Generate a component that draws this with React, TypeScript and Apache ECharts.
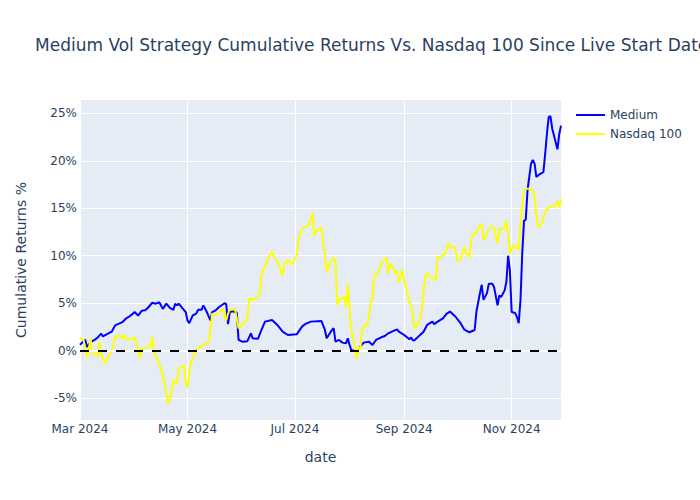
import React, { useEffect, useRef } from "react";
import * as echarts from "echarts";

const TITLE = "Medium Vol Strategy Cumulative Returns Vs. Nasdaq 100 Since Live Start Date";
const SERIES_NAMES = ["Medium", "Nasdaq 100"];
const Y_TICKS = [-5, 0, 5, 10, 15, 20, 25];
const X_TICKS = ["2024-03-01", "2024-05-01", "2024-07-01", "2024-09-01", "2024-11-01"];
const X_RANGE = ["2024-03-01", "2024-11-29"];
const MONTHS = ["Jan", "Feb", "Mar", "Apr", "May", "Jun", "Jul", "Aug", "Sep", "Oct", "Nov", "Dec"];

const mediumPoints: [string, number][] = [
  ["2024-03-01", 0.63], ["2024-03-04", 1.16], ["2024-03-05", 0.39], ["2024-03-07", 0.9],
  ["2024-03-09", 1.1], ["2024-03-11", 1.37], ["2024-03-13", 1.8], ["2024-03-14", 1.5],
  ["2024-03-19", 2.0], ["2024-03-21", 2.67], ["2024-03-25", 3.0], ["2024-03-27", 3.37],
  ["2024-03-29", 3.6], ["2024-03-31", 3.9], ["2024-04-01", 4.07], ["2024-04-03", 3.7],
  ["2024-04-05", 4.2], ["2024-04-07", 4.25], ["2024-04-09", 4.6], ["2024-04-11", 5.05],
  ["2024-04-13", 4.95], ["2024-04-15", 5.1], ["2024-04-17", 4.4], ["2024-04-19", 4.95],
  ["2024-04-21", 4.5], ["2024-04-23", 4.3], ["2024-04-24", 4.95], ["2024-04-25", 4.77],
  ["2024-04-26", 4.95], ["2024-04-28", 4.5], ["2024-04-30", 4.07], ["2024-05-01", 3.19],
  ["2024-05-02", 2.9], ["2024-05-04", 3.72], ["2024-05-06", 3.9], ["2024-05-07", 4.3],
  ["2024-05-09", 4.3], ["2024-05-10", 4.77], ["2024-05-12", 4.07], ["2024-05-14", 3.19],
  ["2024-05-15", 4.07], ["2024-05-17", 4.25], ["2024-05-19", 4.6], ["2024-05-22", 5.0],
  ["2024-05-23", 4.9], ["2024-05-24", 2.8], ["2024-05-25", 4.07], ["2024-05-27", 4.15],
  ["2024-05-29", 4.0], ["2024-05-30", 1.13], ["2024-06-01", 0.95], ["2024-06-04", 1.0],
  ["2024-06-06", 1.83], ["2024-06-07", 1.3], ["2024-06-10", 1.25], ["2024-06-12", 2.18],
  ["2024-06-14", 3.06], ["2024-06-18", 3.24], ["2024-06-21", 2.71], ["2024-06-24", 2.0],
  ["2024-06-27", 1.65], ["2024-07-02", 1.72], ["2024-07-05", 2.53], ["2024-07-07", 2.82],
  ["2024-07-10", 3.06], ["2024-07-16", 3.13], ["2024-07-18", 2.18], ["2024-07-19", 1.3],
  ["2024-07-22", 2.18], ["2024-07-23", 2.36], ["2024-07-24", 0.95], ["2024-07-26", 1.13],
  ["2024-07-28", 0.85], ["2024-07-30", 0.77], ["2024-07-31", 1.3], ["2024-08-01", 0.6],
  ["2024-08-02", 0.07], ["2024-08-06", -0.1], ["2024-08-07", 0.42], ["2024-08-09", 0.85],
  ["2024-08-12", 0.95], ["2024-08-14", 0.6], ["2024-08-16", 1.13], ["2024-08-19", 1.41],
  ["2024-08-21", 1.55], ["2024-08-23", 1.83], ["2024-08-25", 2.0], ["2024-08-28", 2.25],
  ["2024-08-29", 2.0], ["2024-09-01", 1.65], ["2024-09-04", 1.2], ["2024-09-05", 1.4],
  ["2024-09-06", 1.06], ["2024-09-07", 1.13], ["2024-09-10", 1.65], ["2024-09-12", 2.0],
  ["2024-09-14", 2.71], ["2024-09-17", 3.06], ["2024-09-18", 2.8], ["2024-09-20", 3.06],
  ["2024-09-23", 3.4], ["2024-09-25", 3.87], ["2024-09-27", 4.12], ["2024-09-30", 3.6],
  ["2024-10-03", 2.9], ["2024-10-05", 2.25], ["2024-10-08", 1.94], ["2024-10-11", 2.18],
  ["2024-10-12", 4.12], ["2024-10-14", 6.06], ["2024-10-15", 6.94], ["2024-10-16", 5.35],
  ["2024-10-18", 6.06], ["2024-10-19", 7.04], ["2024-10-21", 7.05], ["2024-10-22", 6.7],
  ["2024-10-24", 4.77], ["2024-10-25", 5.82], ["2024-10-26", 5.65], ["2024-10-28", 6.35],
  ["2024-10-29", 7.23], ["2024-10-30", 10.0], ["2024-10-31", 8.4], ["2024-11-01", 4.07],
  ["2024-11-03", 3.96], ["2024-11-04", 3.54], ["2024-11-05", 2.9], ["2024-11-06", 5.3],
  ["2024-11-07", 10.2], ["2024-11-08", 13.7], ["2024-11-09", 13.8], ["2024-11-10", 16.9],
  ["2024-11-12", 19.7], ["2024-11-13", 20.1], ["2024-11-14", 19.7], ["2024-11-15", 18.3],
  ["2024-11-17", 18.6], ["2024-11-19", 18.8], ["2024-11-20", 20.7], ["2024-11-21", 22.8],
  ["2024-11-22", 24.6], ["2024-11-23", 24.7], ["2024-11-24", 23.4], ["2024-11-27", 21.2],
  ["2024-11-28", 22.8], ["2024-11-29", 23.7],
];

const nasdaqPoints: [string, number][] = [
  ["2024-03-01", 1.37], ["2024-03-03", 1.16], ["2024-03-05", -0.77], ["2024-03-07", 1.26],
  ["2024-03-08", -0.21], ["2024-03-11", -0.6], ["2024-03-12", 0.91], ["2024-03-13", -0.39],
  ["2024-03-15", -1.3], ["2024-03-19", -0.04], ["2024-03-21", 1.44], ["2024-03-23", 1.61],
  ["2024-03-25", 1.26], ["2024-03-26", 1.65], ["2024-03-28", 1.16], ["2024-03-30", 1.26],
  ["2024-04-01", 1.37], ["2024-04-03", 0.21], ["2024-04-04", -0.84], ["2024-04-05", 0.21],
  ["2024-04-08", 0.32], ["2024-04-10", 0.56], ["2024-04-11", 1.44], ["2024-04-12", -0.14],
  ["2024-04-14", -1.02], ["2024-04-16", -1.9], ["2024-04-17", -2.77], ["2024-04-18", -3.47],
  ["2024-04-19", -4.5], ["2024-04-20", -5.58], ["2024-04-21", -5.05], ["2024-04-22", -4.5],
  ["2024-04-23", -3.1], ["2024-04-25", -3.47], ["2024-04-26", -1.9], ["2024-04-28", -1.72],
  ["2024-04-29", -1.54], ["2024-04-30", -3.47], ["2024-05-01", -3.9], ["2024-05-03", -1.19],
  ["2024-05-05", -0.49], ["2024-05-06", 0.1], ["2024-05-08", 0.32], ["2024-05-10", 0.67],
  ["2024-05-13", 0.91], ["2024-05-14", 2.14], ["2024-05-15", 3.9], ["2024-05-17", 3.72],
  ["2024-05-19", 4.07], ["2024-05-21", 4.42], ["2024-05-23", 3.19], ["2024-05-24", 3.9],
  ["2024-05-25", 4.32], ["2024-05-28", 4.37], ["2024-05-30", 2.36], ["2024-06-02", 2.89],
  ["2024-06-04", 3.3], ["2024-06-05", 5.5], ["2024-06-07", 5.35], ["2024-06-10", 5.7],
  ["2024-06-11", 6.06], ["2024-06-12", 7.93], ["2024-06-14", 8.9], ["2024-06-16", 9.86],
  ["2024-06-18", 10.4], ["2024-06-19", 10.0], ["2024-06-22", 9.0], ["2024-06-23", 8.4],
  ["2024-06-24", 7.93], ["2024-06-25", 9.16], ["2024-06-27", 9.58], ["2024-06-29", 9.1],
  ["2024-07-01", 9.68], ["2024-07-02", 9.93], ["2024-07-03", 11.68], ["2024-07-04", 12.5],
  ["2024-07-06", 13.0], ["2024-07-08", 13.1], ["2024-07-09", 13.3], ["2024-07-11", 14.5],
  ["2024-07-12", 12.1], ["2024-07-13", 12.6], ["2024-07-15", 12.8], ["2024-07-16", 13.0],
  ["2024-07-18", 10.0], ["2024-07-19", 8.18], ["2024-07-21", 9.33], ["2024-07-23", 9.79],
  ["2024-07-24", 9.44], ["2024-07-25", 4.8], ["2024-07-26", 5.4], ["2024-07-28", 5.5],
  ["2024-07-29", 5.7], ["2024-07-30", 4.6], ["2024-07-31", 7.0], ["2024-08-01", 4.4],
  ["2024-08-02", 2.18], ["2024-08-04", 0.5], ["2024-08-05", -0.9], ["2024-08-06", 0.4],
  ["2024-08-07", -0.2], ["2024-08-08", 2.3], ["2024-08-10", 2.71], ["2024-08-11", 2.71],
  ["2024-08-12", 3.6], ["2024-08-13", 5.18], ["2024-08-14", 5.4], ["2024-08-15", 7.93],
  ["2024-08-17", 8.18], ["2024-08-19", 9.23], ["2024-08-20", 9.44], ["2024-08-22", 9.79],
  ["2024-08-23", 8.1], ["2024-08-24", 9.16], ["2024-08-26", 8.63], ["2024-08-27", 8.18],
  ["2024-08-28", 8.4], ["2024-08-29", 7.23], ["2024-08-31", 8.5], ["2024-09-01", 7.4],
  ["2024-09-03", 6.0], ["2024-09-04", 5.0], ["2024-09-05", 4.9], ["2024-09-07", 2.32],
  ["2024-09-09", 2.84], ["2024-09-10", 3.37], ["2024-09-11", 4.25], ["2024-09-12", 6.35],
  ["2024-09-13", 7.75], ["2024-09-14", 8.18], ["2024-09-15", 7.93], ["2024-09-17", 7.58],
  ["2024-09-19", 7.4], ["2024-09-20", 9.86], ["2024-09-21", 9.86], ["2024-09-23", 10.0],
  ["2024-09-25", 10.56], ["2024-09-26", 11.33], ["2024-09-27", 10.9], ["2024-09-30", 10.9],
  ["2024-10-01", 9.5], ["2024-10-03", 9.58], ["2024-10-05", 10.9], ["2024-10-06", 10.4],
  ["2024-10-08", 9.79], ["2024-10-09", 11.44], ["2024-10-10", 12.3], ["2024-10-12", 12.4],
  ["2024-10-13", 12.84], ["2024-10-14", 13.2], ["2024-10-15", 13.3], ["2024-10-16", 11.68],
  ["2024-10-17", 11.9], ["2024-10-19", 12.84], ["2024-10-21", 13.1], ["2024-10-22", 13.0],
  ["2024-10-24", 11.26], ["2024-10-25", 12.84], ["2024-10-28", 12.84], ["2024-10-29", 13.7],
  ["2024-10-30", 12.3], ["2024-10-31", 10.2], ["2024-11-02", 11.1], ["2024-11-04", 10.9],
  ["2024-11-05", 10.56], ["2024-11-06", 13.37], ["2024-11-08", 16.9], ["2024-11-09", 17.05],
  ["2024-11-11", 17.05], ["2024-11-13", 16.9], ["2024-11-14", 16.35], ["2024-11-15", 14.2],
  ["2024-11-16", 13.0], ["2024-11-18", 13.4], ["2024-11-20", 14.6], ["2024-11-22", 15.1],
  ["2024-11-24", 15.2], ["2024-11-25", 15.2], ["2024-11-27", 15.8], ["2024-11-28", 15.05],
  ["2024-11-29", 15.9],
];

const FONT = "'DejaVu Sans', verdana, arial, sans-serif";
const TEXT_COLOR = "#2a3f5f";

function toTime(s: string): number {
  const [y, m, d] = s.split("-").map(Number);
  return new Date(y, m - 1, d).getTime();
}

export default function App() {
  const ref = useRef<HTMLDivElement>(null);

  useEffect(() => {
    if (!ref.current) return;
    const chart = echarts.init(ref.current, null, { renderer: "svg" });
    const xTicks = X_TICKS.map(toTime);
    const toData = (pts: [string, number][]) => pts.map(([d, v]) => [toTime(d), v]);
    chart.setOption({
      animation: false,
      backgroundColor: "#ffffff",
      textStyle: { fontFamily: FONT },
      grid: { left: 80, top: 100, width: 481, height: 320, backgroundColor: "#E5ECF6", show: true, borderWidth: 0 },
      legend: {
        data: SERIES_NAMES,
        orient: "vertical",
        left: 571,
        top: 103,
        padding: 5,
        icon: "rect",
        itemWidth: 29,
        itemHeight: 2,
        itemGap: 5,
        textStyle: { fontSize: 12, color: TEXT_COLOR, fontFamily: FONT, lineHeight: 14 },
      },
      xAxis: {
        type: "value",
        min: toTime(X_RANGE[0]),
        max: toTime(X_RANGE[1]),
        axisLine: { show: false },
        axisTick: { show: false, customValues: xTicks },
        splitLine: { show: true, lineStyle: { color: "#ffffff", width: 1 } },
        axisLabel: {
          customValues: xTicks,
          margin: 3,
          fontSize: 12,
          color: TEXT_COLOR,
          fontFamily: FONT,
          hideOverlap: false,
          formatter: (v: number) => {
            const d = new Date(v);
            return MONTHS[d.getMonth()] + " " + d.getFullYear();
          },
        },
      },
      yAxis: {
        type: "value",
        min: -7.3,
        max: 26.4,
        axisLine: { show: false },
        axisTick: { show: false, customValues: Y_TICKS },
        splitLine: { show: true, lineStyle: { color: "#ffffff", width: 1 } },
        axisLabel: {
          customValues: Y_TICKS,
          margin: 3,
          fontSize: 12,
          color: TEXT_COLOR,
          fontFamily: FONT,
          formatter: (v: number) => v + "%",
        },
      },
      graphic: [
        {
          type: "text",
          x: 35,
          y: 45,
          style: { text: TITLE, fontSize: 17, fill: TEXT_COLOR, fontFamily: FONT, verticalAlign: "middle" },
        },
        {
          type: "text",
          x: 21,
          y: 260,
          rotation: Math.PI / 2,
          style: {
            text: "Cumulative Returns %",
            fontSize: 14,
            fill: TEXT_COLOR,
            fontFamily: FONT,
            align: "center",
            verticalAlign: "middle",
          },
        },
        {
          type: "text",
          x: 320.5,
          y: 457,
          style: {
            text: "date",
            fontSize: 14,
            fill: TEXT_COLOR,
            fontFamily: FONT,
            align: "center",
            verticalAlign: "middle",
          },
        },
      ],
      series: [
        {
          name: SERIES_NAMES[0],
          type: "line",
          data: toData(mediumPoints),
          symbol: "none",
          lineStyle: { color: "#0000ff", width: 2 },
          itemStyle: { color: "#0000ff" },
          z: 2,
          markLine: {
            silent: true,
            symbol: "none",
            label: { show: false },
            lineStyle: { color: "#ffffff", width: 2, type: "solid" },
            data: [{ yAxis: 0 }],
          },
        },
        {
          name: SERIES_NAMES[1],
          type: "line",
          data: toData(nasdaqPoints),
          symbol: "none",
          lineStyle: { color: "#ffff00", width: 2 },
          itemStyle: { color: "#ffff00" },
          z: 3,
          markLine: {
            silent: true,
            symbol: "none",
            label: { show: false },
            lineStyle: { color: "#000000", width: 2, type: [9, 9] },
            data: [{ yAxis: 0 }],
          },
        },
      ],
    });
    return () => chart.dispose();
  }, []);

  return (
    <div
      ref={ref}
      style={{ position: "fixed", left: 0, top: 0, width: 700, height: 500, background: "#fff" }}
    />
  );
}
